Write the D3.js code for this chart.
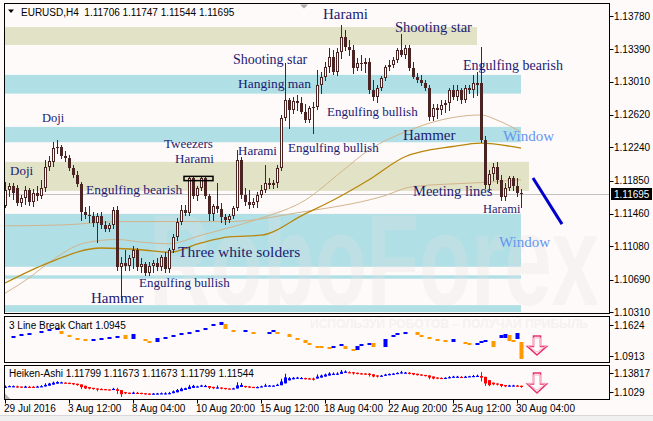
<!DOCTYPE html>
<html><head><meta charset="utf-8">
<script src="https://cdn.jsdelivr.net/npm/d3@7/dist/d3.min.js"></script>
<style>body{margin:0;background:#fffafa}svg{display:block}text{white-space:pre}</style>
</head><body><svg id="c" width="653" height="421"></svg>
<script>
const symbol = "EURUSD,H4";
const open = [
1.1155,1.1174,1.1179,1.1176,1.1159,1.1165,1.1174,1.1160,1.1171,1.1167,
1.1176,1.1201,1.1207,1.1223,1.1224,1.1214,1.1212,1.1200,1.1192,1.1181,
1.1148,1.1145,1.1144,1.1135,1.1144,1.1133,1.1128,1.1133,1.1151,1.1084,
1.1089,1.1085,1.1094,1.1104,1.1084,1.1087,1.1077,1.1085,1.1089,1.1084,
1.1096,1.1081,1.1104,1.1119,1.1137,1.1151,1.1147,1.1188,1.1167,1.1176,
1.1188,1.1167,1.1146,1.1155,1.1152,1.1142,1.1139,1.1144,1.1153,1.1209,
1.1168,1.1160,1.1156,1.1160,1.1168,1.1174,1.1182,1.1180,1.1182,1.1200,
1.1258,1.1280,1.1268,1.1278,1.1276,1.1265,1.1256,1.1270,1.1271,1.1297,
1.1307,1.1318,1.1330,1.1312,1.1336,1.1353,1.1342,1.1338,1.1317,1.1323,
1.1322,1.1324,1.1291,1.1283,1.1294,1.1305,1.1318,1.1321,1.1326,1.1338,
1.1332,1.1340,1.1317,1.1307,1.1303,1.1299,1.1294,1.1260,1.1270,1.1268,
1.1274,1.1276,1.1291,1.1283,1.1291,1.1280,1.1294,1.1291,1.1297,1.1299,
1.1233,1.1180,1.1193,1.1201,1.1186,1.1166,1.1176,1.1188,1.1179,1.11706];
const high = [
1.1183,1.1182,1.1182,1.1180,1.1168,1.1179,1.1176,1.1175,1.1179,1.1186,
1.1209,1.1214,1.1230,1.1233,1.1227,1.1220,1.1215,1.1203,1.1196,1.1183,
1.1154,1.1155,1.1148,1.1147,1.1148,1.1138,1.1135,1.1154,1.1155,1.1096,
1.1104,1.1098,1.1108,1.1106,1.1094,1.1090,1.1090,1.1092,1.1094,1.1098,
1.1101,1.1106,1.1123,1.1141,1.1156,1.1156,1.1190,1.1190,1.1179,1.1190,
1.1190,1.1169,1.1158,1.1182,1.1159,1.1146,1.1146,1.1155,1.1221,1.1213,
1.1176,1.1174,1.1165,1.1172,1.1180,1.1203,1.1188,1.1186,1.1203,1.1262,
1.1323,1.1282,1.1283,1.1285,1.1283,1.1275,1.1273,1.1277,1.1315,1.1312,
1.1324,1.1340,1.1338,1.1340,1.1367,1.1362,1.1350,1.1344,1.1329,1.1332,
1.1329,1.1329,1.1303,1.1297,1.1308,1.1321,1.1326,1.1330,1.1340,1.1357,
1.1344,1.1344,1.1324,1.1311,1.1309,1.1303,1.1297,1.1275,1.1275,1.1280,
1.1280,1.1294,1.1297,1.1297,1.1294,1.1297,1.1297,1.1309,1.1312,1.1342,
1.1237,1.1198,1.1206,1.1207,1.1192,1.1182,1.1190,1.1190,1.1188,1.11747];
const low = [
1.1154,1.1167,1.1164,1.1156,1.1155,1.1158,1.1156,1.1155,1.1162,1.1165,
1.1173,1.1198,1.1202,1.1217,1.1212,1.1208,1.1198,1.1189,1.1179,1.1139,
1.1141,1.1137,1.1132,1.1113,1.1130,1.1126,1.1126,1.1130,1.1080,1.1045,
1.1080,1.1080,1.1083,1.1080,1.1078,1.1074,1.1074,1.1078,1.1080,1.1080,
1.1078,1.1078,1.1101,1.1115,1.1134,1.1145,1.1145,1.1165,1.1162,1.1174,
1.1165,1.1139,1.1139,1.1148,1.1137,1.1134,1.1137,1.1141,1.1151,1.1165,
1.1156,1.1153,1.1154,1.1154,1.1166,1.1172,1.1176,1.1176,1.1178,1.1198,
1.1256,1.1247,1.1264,1.1268,1.1264,1.1254,1.1254,1.1241,1.1269,1.1288,
1.1303,1.1312,1.1310,1.1309,1.1329,1.1338,1.1332,1.1311,1.1315,1.1315,
1.1312,1.1288,1.1280,1.1277,1.1291,1.1303,1.1315,1.1318,1.1324,1.1331,
1.1329,1.1315,1.1305,1.1301,1.1297,1.1291,1.1256,1.1256,1.1258,1.1263,
1.1265,1.1268,1.1281,1.1280,1.1276,1.1277,1.1288,1.1283,1.1285,1.1230,
1.1176,1.1174,1.1186,1.1182,1.1162,1.1162,1.1174,1.1174,1.1167,1.11544];
const close = [
1.1174,1.1179,1.1171,1.1159,1.1165,1.1174,1.1160,1.1171,1.1167,1.1176,
1.1201,1.1208,1.1223,1.1224,1.1214,1.1212,1.1200,1.1192,1.1181,1.1148,
1.1145,1.1144,1.1135,1.1144,1.1133,1.1128,1.1133,1.1151,1.1084,1.1089,
1.1085,1.1094,1.1104,1.1084,1.1087,1.1077,1.1085,1.1089,1.1084,1.1096,
1.1081,1.1104,1.1119,1.1137,1.1151,1.1147,1.1188,1.1167,1.1176,1.1188,
1.1167,1.1146,1.1155,1.1152,1.1142,1.1139,1.1144,1.1153,1.1209,1.1168,
1.1160,1.1156,1.1160,1.1168,1.1174,1.1182,1.1180,1.1182,1.1200,1.1258,
1.1280,1.1268,1.1278,1.1276,1.1265,1.1256,1.1270,1.1271,1.1297,1.1307,
1.1318,1.1330,1.1312,1.1336,1.1353,1.1342,1.1338,1.1317,1.1323,1.1322,
1.1324,1.1291,1.1283,1.1294,1.1305,1.1318,1.1321,1.1326,1.1338,1.1332,
1.1340,1.1317,1.1307,1.1303,1.1299,1.1294,1.1260,1.1270,1.1268,1.1274,
1.1276,1.1291,1.1283,1.1291,1.1280,1.1294,1.1291,1.1299,1.1299,1.1233,
1.1180,1.1193,1.1201,1.1186,1.1166,1.1176,1.1188,1.1179,1.1171,1.11695];

const priceTicks = [1.13780,1.13390,1.13010,1.12620,1.12240,1.11850,1.11460,1.11080,1.10690,1.10310];
const timeIdx = [0,16,32,48,64,80,96,112,128];
const timeLabels = ["29 Jul 2016","3 Aug 12:00","8 Aug 04:00","10 Aug 20:00","15 Aug 12:00","18 Aug 04:00","22 Aug 20:00","25 Aug 12:00","30 Aug 04:00"];

const bandTop    = [1.1365,1.1309,1.1248,1.1207,1.1146,1.1074,1.1039];
const bandBottom = [1.1344,1.1287,1.1230,1.1173,1.1084,1.1070,1.1031];
const bandEnd    = [118,129,129,131,129,129,129];
const bandKind   = ["b","c","c","b","c","c","c"];

const maSlow = [[0,1.1132],[14,1.1133],[29,1.1137],[56,1.1137],[74,1.1148],[94,1.1166],[102,1.1178],[120,1.1183],[129,1.1186]];
const maMid  = [[0,1.1065],[11,1.1089],[24,1.1106],[34,1.1104],[41,1.1101],[49,1.1112],[56,1.1119],[64,1.1121],[75,1.1146],[82,1.1162],[91,1.1186],[100,1.1213],[112,1.1225],[119,1.1229],[129,1.1223]];
const maFast = [[0,1.1053],[6,1.1071],[11,1.1089],[20,1.1112],[28,1.1116],[34,1.1113],[41,1.1111],[49,1.1121],[57,1.1131],[64,1.1141],[75,1.1162],[84,1.1195],[91,1.1221],[100,1.1242],[112,1.1259],[119,1.1262],[123,1.1256],[129,1.1242]];

const patText  = ["Doji","Doji","Engulfing bearish","Tweezers","Harami","Three white solders","Hammer","Engulfing bullish","Harami","Shooting star","Hanging man","Engulfing bullish","Engulfing bullish","Harami","Shooting star","Engulfing bearish","Hammer","Window","Meeting lines","Harami","Window"];
const patIdx   = [9.25,1.25,20.25,39.75,42.5,43.25,21.5,33.5,58.25,57,58.25,70.75,80.5,79.5,97.5,114.5,99.5,124.5,102,119.5,123.5];
const patPrice = [1.1254,1.1192,1.1169,1.1223,1.1206,1.1096,1.1042,1.1060,1.1215,1.1322,1.1294,1.1219,1.1261,1.1374,1.1359,1.1315,1.1233,1.1231,1.1167,1.1147,1.1107];
const patSize  = [12.5,13,13.5,13,13,15.5,15,13,13,14,13.5,13,13,15,14.5,14,15,15,14.5,12.5,15];
const patKind  = ["n","n","n","n","n","n","n","n","n","n","n","n","n","n","n","n","n","w","n","n","w"];

const boxIdx = [44.75,52], boxPrice = [1.1190,1.1185];
const trendIdx = [132,139.25], trendPrice = [1.1188,1.1134];

const lbIdx = [2,4,6,9,11,13,14,16,18,20,22,24,26,28,30,32,35,36,38,40,42,44,46,48,50,52,54,55,57,60,62,66,67,68,71,73,75,76,78,79,81,82,84,85,87,88,89,91,92,95,97,98,100,103,104,106,108,110,112,115,116,118,119,120,122,124,125,126,127,128,129];
const lbHi = [1.1372,1.1418,1.1440,1.1486,1.1532,1.1555,1.1486,1.1395,1.1326,1.1303,1.1303,1.1326,1.1349,1.1372,1.1395,1.1418,1.1303,1.1257,1.1326,1.1349,1.1395,1.1440,1.1463,1.1509,1.1555,1.1647,1.1693,1.1647,1.1509,1.1509,1.1463,1.1463,1.1509,1.1463,1.1418,1.1326,1.1280,1.1211,1.1142,1.1142,1.1119,1.1142,1.1188,1.1142,1.1073,1.1142,1.1188,1.1211,1.1211,1.1303,1.1395,1.1440,1.1463,1.1463,1.1395,1.1349,1.1303,1.1280,1.1303,1.1234,1.1211,1.1211,1.1257,1.1280,1.1257,1.1395,1.1418,1.1395,1.1280,1.1440,1.1234];
const lbLo = [1.1326,1.1372,1.1395,1.1440,1.1486,1.1509,1.1418,1.1349,1.1303,1.1257,1.1257,1.1280,1.1303,1.1326,1.1303,1.1303,1.1257,1.1211,1.1234,1.1303,1.1349,1.1395,1.1418,1.1463,1.1509,1.1601,1.1624,1.1532,1.1486,1.1486,1.1440,1.1440,1.1486,1.1440,1.1349,1.1303,1.1211,1.1165,1.1119,1.1096,1.1073,1.1119,1.1165,1.1073,1.1028,1.1050,1.1165,1.1188,1.1119,1.1119,1.1372,1.1418,1.1440,1.1395,1.1372,1.1326,1.1280,1.1257,1.1234,1.1211,1.1188,1.1188,1.1234,1.1257,1.1119,1.1326,1.1326,1.1257,1.1257,1.1303,1.0844];
const lbUp = [1,1,1,1,1,1,0,0,0,0,1,1,1,1,0,1,0,0,1,1,1,1,1,1,1,1,1,0,0,1,0,1,1,0,0,0,0,0,0,0,0,1,1,0,0,1,1,1,0,1,1,1,1,0,0,0,0,0,1,0,0,1,1,1,0,1,1,0,0,1,0];
const lbTicks = [1.1624,1.0913], lbTickLabels = ["1.1624","1.0913"];
const haTicks = [1.13817,1.1029], haTickLabels = ["1.13817","1.1029"];
const lbTitle = "3 Line Break Chart 1.0945";
const haTitle = "Heiken-Ashi 1.11799 1.11673 1.11673 1.11799 1.11544";
const watermark = "RoboForex";
const slogan = "ИСПОЛЬЗУЙ РОБОТОВ – ПОЛУЧАЙ ПРИБЫЛЬ";

// ---------- drawing ----------
const W=653,H=421;
const L=4.5,R=609.5,T=3.5,B=313.5;
const P1T=316.5,P1B=362.5,P2T=365.5,P2B=399.5;
const CANDLE="#4a2323", NAVY="#1b1b72", AX="Liberation Sans, Arial, sans-serif", SERIF="Liberation Serif, Times New Roman, serif";
const n=close.length;
const x = d3.scaleLinear().domain([0,n-1]).range([5,521]);
const y = d3.scaleLinear().domain([1.10310,1.13780]).range([312,16]);
const lbY = d3.scaleLinear().domain([1.0913,1.1624]).range([356,325]);
const haY = d3.scaleLinear().domain([1.1045,1.1367]).range([397,370]);
const haLabelY = d3.scaleLinear().domain([1.1029,1.13817]).range([392,373]);

const svg=d3.select("#c");
svg.append("rect").attr("width",W).attr("height",H).attr("fill","#fffafa");
svg.append("rect").attr("x",0).attr("y",416).attr("width",W).attr("height",5).attr("fill","#f0f0f0");
svg.append("line").attr("x1",0).attr("x2",W).attr("y1",415.5).attr("y2",415.5).attr("stroke","#d8d8d8");

const defs=svg.append("defs");
[["cm",T,B],["c1",P1T,P1B],["c2",P2T,P2B]].forEach(([id,t,b])=>{
  defs.append("clipPath").attr("id",id).append("rect").attr("x",L).attr("y",t).attr("width",R-L).attr("height",b-t);
});

// ---- main panel
const g=svg.append("g").attr("clip-path","url(#cm)");
g.selectAll("rect.band").data(d3.range(bandTop.length)).join("rect")
  .attr("x",L).attr("y",i=>y(bandTop[i])).attr("width",i=>x(bandEnd[i])-L)
  .attr("height",i=>y(bandBottom[i])-y(bandTop[i]))
  .attr("fill",i=>bandKind[i]==="c"?"#b0dfe5":"#e2e2c6");

g.append("text").text(watermark).attr("x",x(36)).attr("y",y(1.1039))
  .attr("font-family",AX).attr("font-weight","bold").attr("font-size",130)
  .attr("textLength",450).attr("lengthAdjust","spacingAndGlyphs")
  .attr("fill","#e2e2e2").attr("opacity",0.28);

// current price line
const cy=Math.round(y(close[n-1]))+0.5;
g.append("line").attr("x1",L).attr("x2",R).attr("y1",cy).attr("y2",cy).attr("stroke","#c0c0c0");

// moving averages
const maLine=d3.line().x(d=>x(d[0])).y(d=>y(d[1])).curve(d3.curveMonotoneX);
g.append("path").attr("d",maLine(maSlow)).attr("fill","none").attr("stroke","#d2b48c").attr("stroke-width",1);
g.append("path").attr("d",maLine(maFast)).attr("fill","none").attr("stroke","#d2b48c").attr("stroke-width",1);
g.append("path").attr("d",maLine(maMid)).attr("fill","none").attr("stroke","#b8860b").attr("stroke-width",1.3);

// candles
const cg=g.append("g");
for(let i=0;i<n;i++){
  const cx=Math.round(x(i));
  const top=Math.round(y(Math.max(open[i],close[i]))), bot=Math.round(y(Math.min(open[i],close[i])));
  const h=Math.max(1,bot-top);
  cg.append("line").attr("x1",cx+0.5).attr("x2",cx+0.5).attr("y1",Math.round(y(high[i]))).attr("y2",Math.round(y(low[i]))+1).attr("stroke",CANDLE);
  cg.append("rect").attr("x",cx-1).attr("y",top).attr("width",3).attr("height",h).attr("fill",CANDLE);
  if(close[i]>open[i] && h>=3) cg.append("rect").attr("x",cx).attr("y",top+1).attr("width",1).attr("height",h-2).attr("fill","#ffffff");
}

// pattern labels
g.selectAll("text.pat").data(d3.range(patText.length)).join("text")
  .text(i=>patText[i]).attr("x",i=>x(patIdx[i])).attr("y",i=>y(patPrice[i]))
  .attr("font-family",SERIF).attr("font-size",i=>patSize[i])
  .attr("fill",i=>patKind[i]==="w"?"#6495ed":NAVY);

// tweezers box
g.append("rect").attr("x",x(boxIdx[0])).attr("y",y(boxPrice[0])).attr("width",x(boxIdx[1])-x(boxIdx[0]))
  .attr("height",y(boxPrice[1])-y(boxPrice[0])).attr("fill","none").attr("stroke","#000").attr("stroke-width",1.5);
// trend arrow line
g.append("line").attr("x1",x(trendIdx[0])).attr("y1",y(trendPrice[0])).attr("x2",x(trendIdx[1])).attr("y2",y(trendPrice[1]))
  .attr("stroke","#0000cd").attr("stroke-width",3);
// shift marker
const sx=x(74.75);
svg.append("path").attr("d",`M${sx-4},${T+1}L${sx+4},${T+1}L${sx},${T+5}Z`).attr("fill","#a8a8a8");

svg.append("rect").attr("x",L).attr("y",T).attr("width",R-L).attr("height",B-T).attr("fill","none").attr("stroke","#000");

// right axis
svg.selectAll("line.pt").data(priceTicks).join("line").attr("x1",R).attr("x2",R+4)
  .attr("y1",d=>Math.round(y(d))+0.5).attr("y2",d=>Math.round(y(d))+0.5).attr("stroke","#000");
svg.selectAll("text.pt").data(priceTicks).join("text").text(d=>d.toFixed(5))
  .attr("x",614).attr("y",d=>y(d)+3.5).attr("font-family",AX).attr("font-size",10).attr("fill","#000");
svg.append("rect").attr("x",611).attr("y",cy-6.5).attr("width",41).attr("height",12).attr("fill","#000");
svg.append("text").text(close[n-1].toFixed(5)).attr("x",614).attr("y",cy+3.5).attr("font-family",AX).attr("font-size",10).attr("fill","#fff");

// header
svg.append("path").attr("d","M8,9.5L14,9.5L11,13Z").attr("fill","#000");
svg.append("text").text(`${symbol}  ${open[n-1].toFixed(5)} ${high[n-1].toFixed(5)} ${low[n-1].toFixed(5)} ${close[n-1].toFixed(5)}`)
  .attr("x",21).attr("y",16).attr("font-family",AX).attr("font-size",10).attr("fill","#000");

// ---- 3 line break panel
const g1=svg.append("g").attr("clip-path","url(#c1)");
g1.append("text").text(slogan).attr("x",310).attr("y",328).attr("font-family",AX).attr("font-weight","bold")
  .attr("font-size",12).attr("textLength",278).attr("lengthAdjust","spacingAndGlyphs").attr("fill","#f5f1f1");
g1.selectAll("rect.lb").data(d3.range(lbIdx.length)).join("rect")
  .attr("x",i=>Math.round(x(lbIdx[i]))-1.5).attr("width",4)
  .attr("y",i=>lbY(lbHi[i])).attr("height",i=>Math.max(2,lbY(lbLo[i])-lbY(lbHi[i])))
  .attr("fill",i=>lbUp[i]?"#0000ff":"#ff9900");
svg.append("text").text(lbTitle).attr("x",9).attr("y",329).attr("font-family",AX).attr("font-size",10).attr("fill","#000");
svg.append("rect").attr("x",L).attr("y",P1T).attr("width",R-L).attr("height",P1B-P1T).attr("fill","none").attr("stroke","#000");
svg.selectAll("line.lt").data(lbTicks).join("line").attr("x1",R).attr("x2",R+4)
  .attr("y1",d=>Math.round(lbY(d))+0.5).attr("y2",d=>Math.round(lbY(d))+0.5).attr("stroke","#000");
svg.selectAll("text.lt").data(lbTicks).join("text").text((d,i)=>lbTickLabels[i])
  .attr("x",614).attr("y",d=>lbY(d)+3.5).attr("font-family",AX).attr("font-size",10).attr("fill","#000");

// ---- Heiken-Ashi panel
const haO=[],haC=[],haH=[],haL=[];
for(let i=0;i<n;i++){
  const c=(open[i]+high[i]+low[i]+close[i])/4;
  const o=i===0?(open[0]+close[0])/2:(haO[i-1]+haC[i-1])/2;
  haO.push(o);haC.push(c);haH.push(Math.max(high[i],o,c));haL.push(Math.min(low[i],o,c));
}
const g2=svg.append("g").attr("clip-path","url(#c2)");
for(let i=0;i<n;i++){
  const cx=Math.round(x(i)), col=haC[i]>=haO[i]?"#0000ff":"#ff0000";
  g2.append("line").attr("x1",cx+0.5).attr("x2",cx+0.5).attr("y1",haY(haH[i])).attr("y2",haY(haL[i])).attr("stroke",col);
  const t=haY(Math.max(haO[i],haC[i])), b=haY(Math.min(haO[i],haC[i]));
  g2.append("rect").attr("x",cx-1).attr("width",3).attr("y",t).attr("height",Math.max(1.2,b-t)).attr("fill",col);
}
svg.append("text").text(haTitle).attr("x",9).attr("y",377).attr("font-family",AX).attr("font-size",10).attr("fill","#000");
svg.append("path").attr("d",`M${L+0.5},${P2B-0.5}L${L+0.5},${P2B-6}L${L+6},${P2B-0.5}Z`).attr("fill","#b8b8b8");
svg.append("rect").attr("x",L).attr("y",P2T).attr("width",R-L).attr("height",P2B-P2T).attr("fill","none").attr("stroke","#000");
svg.selectAll("line.ht").data(haTicks).join("line").attr("x1",R).attr("x2",R+4)
  .attr("y1",d=>Math.round(haLabelY(d))+0.5).attr("y2",d=>Math.round(haLabelY(d))+0.5).attr("stroke","#000");
svg.selectAll("text.ht").data(haTicks).join("text").text((d,i)=>haTickLabels[i])
  .attr("x",614).attr("y",d=>haLabelY(d)+3.5).attr("font-family",AX).attr("font-size",10).attr("fill","#000");

// down arrows (signal)
function downArrow(cx,top,bot){
  const mid=top+(bot-top)*0.55;
  return `M${cx-3.5},${top}L${cx+3.5},${top}L${cx+3.5},${mid}L${cx+9.5},${mid}L${cx},${bot}L${cx-9.5},${mid}L${cx-3.5},${mid}Z`;
}
const ax=x(133);
[[336,355],[373,393]].forEach(([t,b])=>{
  svg.append("path").attr("d",downArrow(ax,t,b)).attr("fill","#fff").attr("stroke","#e8336a").attr("stroke-width",1.6);
  svg.append("path").attr("d",downArrow(ax,t+2,b-3)).attr("fill","none").attr("stroke","#f7b6c8").attr("stroke-width",1);
});

// time axis
svg.selectAll("line.tt").data(timeIdx).join("line").attr("x1",d=>Math.round(x(d))+0.5).attr("x2",d=>Math.round(x(d))+0.5)
  .attr("y1",P2B).attr("y2",P2B+4).attr("stroke","#000");
svg.selectAll("text.tt").data(timeIdx).join("text").text((d,i)=>timeLabels[i])
  .attr("x",d=>x(d)-1).attr("y",412).attr("font-family",AX).attr("font-size",10).attr("fill","#000");
</script></body></html>
